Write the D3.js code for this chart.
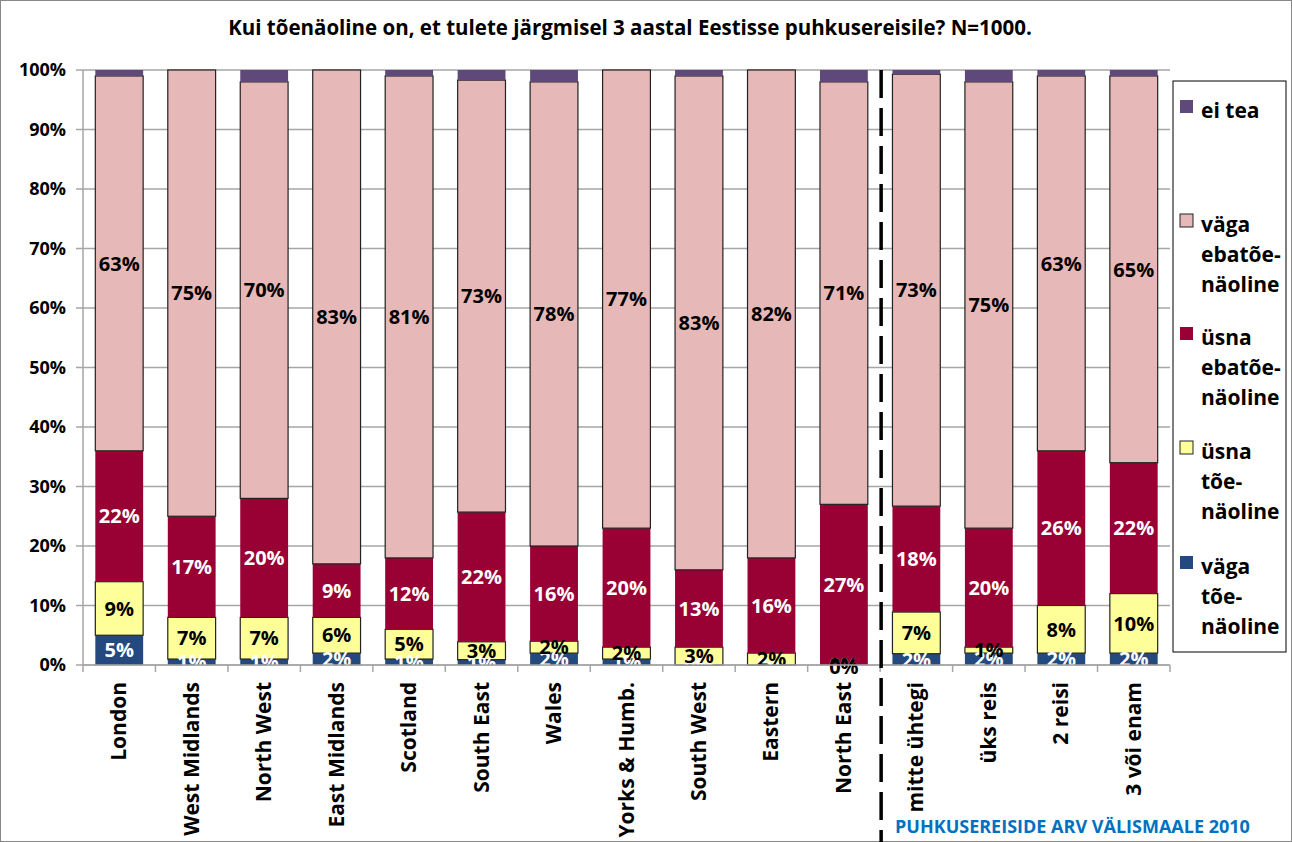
<!DOCTYPE html>
<html><head><meta charset="utf-8">
<script src="https://cdn.jsdelivr.net/npm/d3@7"></script>
<style>body{margin:0;background:#fff}svg{display:block}</style>
</head><body>
<script>
const categories = ["London","West Midlands","North West","East Midlands","Scotland","South East","Wales","Yorks & Humb.","South West","Eastern","North East","mitte ühtegi","üks reis","2 reisi","3 või enam"];
const seriesNames = ["väga tõe-näoline","üsna tõe-näoline","üsna ebatõe-näoline","väga ebatõe-näoline","ei tea"];
const vagaToe  = [5,1,1,2,1,0.9,2,1,0,0,0,1.9,2,2,2];
const usnaToe  = [9,7,7,6,5,3,2,2,3,2,0,7,1,8,10];
const usnaEba  = [22,17,20,9,12,21.8,16,20,13,16,27,17.8,20,26,22];
const vagaEba  = [63,75,70,83,81,72.6,78,77,83,82,71,72.6,75,63,65];
const eiTea    = [1,0,2,0,1,1.7,2,0,1,0,2,0.7,2,1,1];
const yTicks = [0,10,20,30,40,50,60,70,80,90,100];
const legendLines = [["ei tea"],["väga","ebatõe-","näoline"],["üsna","ebatõe-","näoline"],["üsna","tõe-","näoline"],["väga","tõe-","näoline"]];
const titleText = "Kui tõenäoline on, et tulete järgmisel 3 aastal Eestisse puhkusereisile? N=1000.";
const groupLabel = "PUHKUSEREISIDE ARV VÄLISMAALE 2010";

const colors = ["#24497E","#FFFF99","#990033","#E6B8B7","#5F497A"];
const labelColors = ["#fff","#000","#fff","#000",null];
const strokes = [null,"#222",null,"#222",null];

const W=1292,H=842;
const font = "'Open Sans', sans-serif";
const svg = d3.select("body").append("svg").attr("width",W).attr("height",H).style("font-family",font);
svg.append("rect").attr("x",0.5).attr("y",0.5).attr("width",W-1).attr("height",H-1).attr("fill","#fff").attr("stroke","#888");

const L=83,R=1170,T=70,B=665;
const x = d3.scaleBand().domain(categories).range([L,R]).paddingInner(0.34).paddingOuter(0.17);
const y = d3.scaleLinear().domain([0,100]).range([B,T]);

// title
svg.append("text").attr("x",630).attr("y",35).attr("text-anchor","middle").attr("font-weight","bold").attr("font-size",20.5).text(titleText);

// gridlines
svg.append("g").selectAll("line").data(yTicks).join("line")
 .attr("x1",L-7).attr("x2",R).attr("y1",d=>y(d)).attr("y2",d=>y(d)).attr("stroke","#A6A6A6").attr("stroke-width",1.5);
svg.append("line").attr("x1",L).attr("x2",L).attr("y1",T).attr("y2",B).attr("stroke","#A6A6A6").attr("stroke-width",1.5);

// y axis labels
svg.append("g").selectAll("text").data(yTicks).join("text")
 .attr("x",L-17).attr("y",d=>y(d)).attr("dy","0.35em").attr("text-anchor","end")
 .attr("font-weight","bold").attr("font-size",18).text(d=>d+"%");

// stacked data
const rows = categories.map((c,i)=>({cat:c, s0:vagaToe[i], s1:usnaToe[i], s2:usnaEba[i], s3:vagaEba[i], s4:eiTea[i]}));
const stack = d3.stack().keys(["s0","s1","s2","s3","s4"])(rows);

svg.append("defs").append("clipPath").attr("id","plotclip").append("rect").attr("x",L).attr("y",T).attr("width",R-L).attr("height",B-T);

const gBars = svg.append("g");
stack.forEach((layer,k)=>{
  gBars.append("g").selectAll("rect").data(layer).join("rect")
   .attr("x",d=>x(d.data.cat)).attr("width",x.bandwidth())
   .attr("y",d=>y(d[1])).attr("height",d=>y(d[0])-y(d[1]))
   .attr("fill",colors[k])
   .attr("stroke",strokes[k]||"none").attr("stroke-width",1.2);
});

const gLab = svg.append("g").attr("clip-path","url(#plotclip)");
stack.forEach((layer,k)=>{
  if(!labelColors[k]) return;
  gLab.append("g").selectAll("text").data(layer).join("text")
   .attr("x",d=>x(d.data.cat)+x.bandwidth()/2)
   .attr("y",d=>y((d[0]+d[1])/2)).attr("dy","0.36em")
   .attr("text-anchor","middle").attr("font-weight","bold").attr("font-size",20)
   .attr("fill",labelColors[k]).text(d=>Math.round(d[1]-d[0])+"%");
});
// zero label for North East (drawn outside clip, black)
svg.append("g").selectAll("text").data(stack[1].filter(d=>Math.round(d[1]-d[0])===0 && d[0]===0)).join("text")
 .attr("x",d=>x(d.data.cat)+x.bandwidth()/2).attr("y",d=>y(0)+2).attr("dy","0.36em")
 .attr("text-anchor","middle").attr("font-weight","bold").attr("font-size",20).attr("fill","#000")
 .text(d=>Math.round(d[1]-d[0])+"%");

// x axis line and ticks
svg.append("line").attr("x1",L).attr("x2",R).attr("y1",B).attr("y2",B).attr("stroke","#A6A6A6").attr("stroke-width",1.5);
svg.append("g").selectAll("line").data(d3.range(categories.length+1)).join("line")
 .attr("x1",i=>L+i*x.step()).attr("x2",i=>L+i*x.step()).attr("y1",B).attr("y2",B+7).attr("stroke","#A6A6A6").attr("stroke-width",1.5);

// x labels
svg.append("g").selectAll("text").data(categories).join("text")
 .attr("transform",d=>`translate(${x(d)+x.bandwidth()/2+7},682) rotate(-90)`)
 .attr("text-anchor","end").attr("font-weight","bold").attr("font-size",21).text(d=>d);

// dashed separator
const sepX = L+11*x.step()+1;
svg.append("line").attr("x1",sepX).attr("x2",sepX).attr("y1",T).attr("y2",H).attr("stroke","#000").attr("stroke-width",3.5).attr("stroke-dasharray","28,10");

// group label
svg.append("text").attr("x",895).attr("y",833).attr("font-weight","bold").attr("font-size",18).attr("fill","#0070C0").text(groupLabel);

// legend
const lg = svg.append("g");
lg.append("rect").attr("x",1173).attr("y",81).attr("width",113).attr("height",571).attr("fill","#fff").attr("stroke","#000").attr("stroke-width",1);
const legOrder = [4,3,2,1,0];
const legY = [111,225,338,452,567];
legOrder.forEach((k,j)=>{
  lg.append("rect").attr("x",1180).attr("y",legY[j]-11).attr("width",13).attr("height",13).attr("fill",colors[k]).attr("stroke",strokes[k]||"none");
  legendLines[j].forEach((t,m)=>{
    lg.append("text").attr("x",1201).attr("y",legY[j]+m*30).attr("dy","0.35em").attr("font-weight","bold").attr("font-size",21).text(t);
  });
});
</script>
</body></html>
